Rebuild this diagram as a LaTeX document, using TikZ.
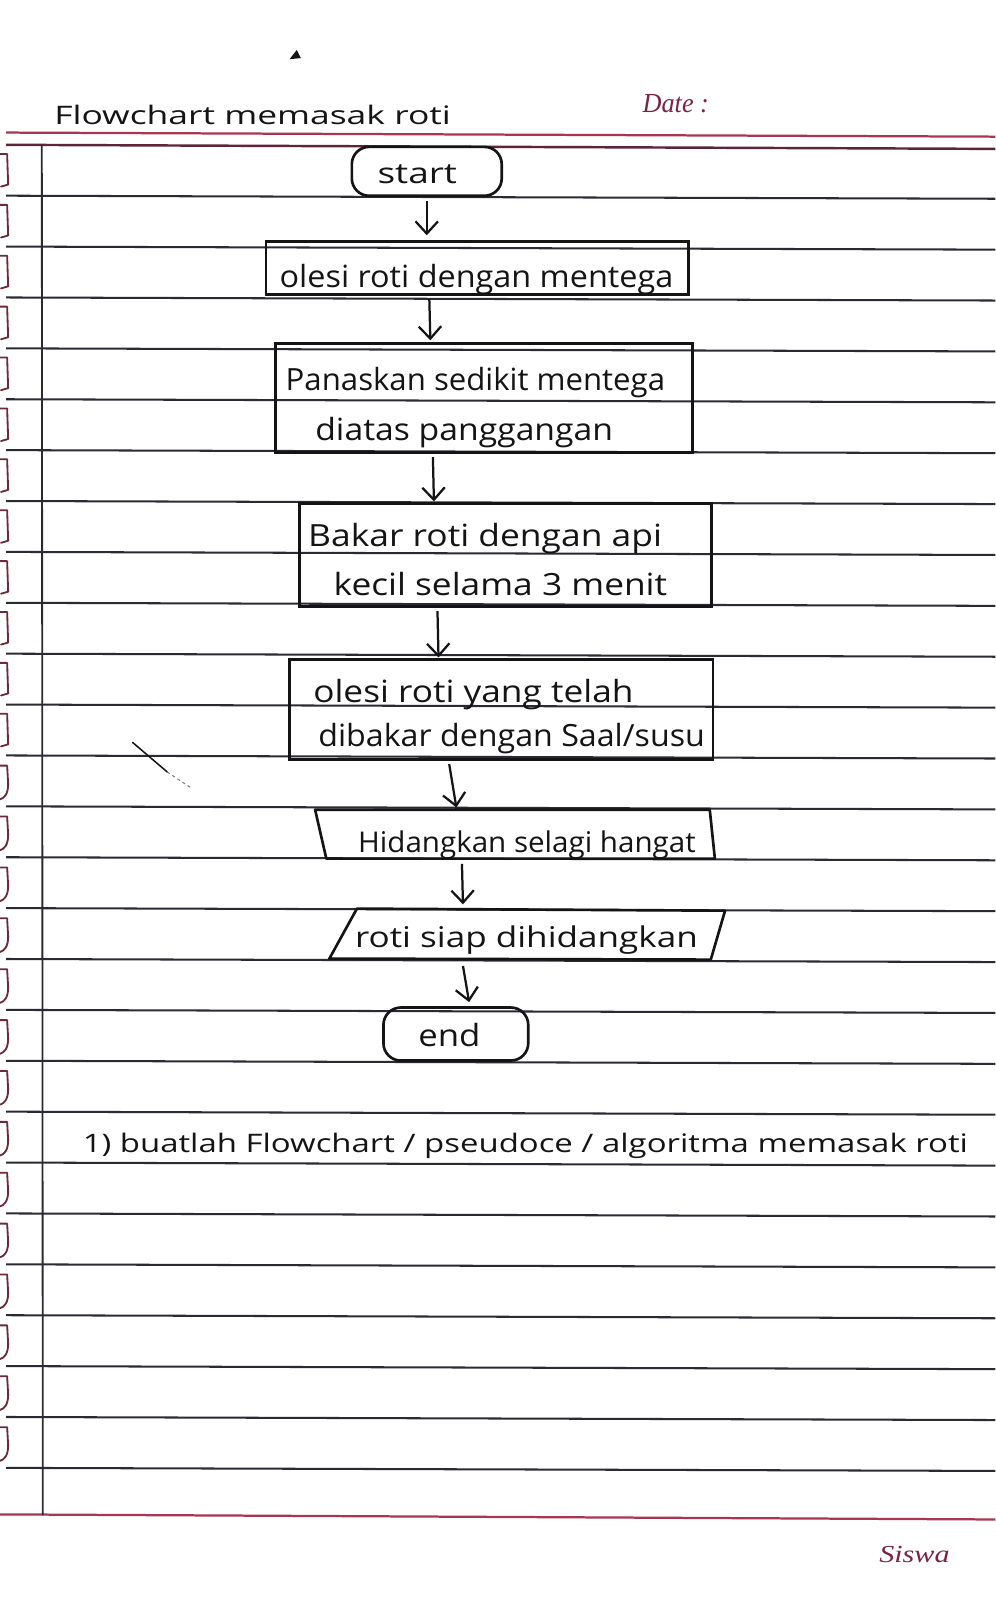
\documentclass[tikz,border=0pt]{standalone}
\usepackage{fontspec}
\usepackage{graphicx}
\newfontfamily\hand{Open Sans}
\newfontfamily\dserif{Liberation Serif}
\usetikzlibrary{arrows.meta,calc}
\definecolor{ink}{HTML}{141414}
\definecolor{rulec}{HTML}{2A2A34}
\definecolor{redline}{HTML}{A83652}
\definecolor{maroonc}{HTML}{5E2536}
\definecolor{printred}{HTML}{7A2342}
\definecolor{markc}{HTML}{6E2A3A}
\newcommand\hw[2]{\resizebox{#1}{\height}{#2}}
\begin{document}
\begin{tikzpicture}[x=1pt,y=-1pt,
  box/.style={draw=ink, line width=2.6pt, inner sep=0pt, rectangle},
  term/.style={box, rounded corners=17pt},
  hidden/.style={inner sep=0pt, rectangle},
  shapeline/.style={draw=ink, line width=2.6pt, line join=round},
  txt/.style={inner sep=0pt, anchor=base west, text=ink},
  tA/.style={txt, font=\hand\fontsize{30}{36}\selectfont},
  tB/.style={txt, font=\hand\fontsize{28}{32}\selectfont},
  tC/.style={txt, font=\hand\fontsize{25}{28}\selectfont},
  arr/.style={draw=ink, line width=2.2pt, -{Straight Barb[length=12pt,width=22pt,line width=2.2pt]}},
  ruled/.style={draw=rulec, line width=2pt},
  bindermark/.style={draw=markc, line width=1.8pt, line cap=round, line join=round}
]
\fill[white] (0,0) rectangle (976,1568);
\useasboundingbox (0,0) rectangle (976,1568);

% ---- notebook paper ----
\draw[draw=redline, line width=2.2pt] (6,130) -- (976,134);
\draw[draw=maroonc, line width=2.4pt] (6,142) -- (976,146);
\foreach \k in {1,...,26} {
  \pgfmathsetmacro\yy{142+49.9*\k}
  \draw[ruled] (6,\yy) -- (976,\yy+3);
}
\draw[draw=redline, line width=2.2pt] (0,1485) -- (976,1490);
\draw[draw=rulec, line width=1.8pt] (41,142) -- (42,1486);
\foreach \k in {0,...,11} {
  \pgfmathsetmacro\yy{142+49.9*\k}
  \draw[bindermark] (0,\yy+9) -- (7,\yy+9) -- (8,\yy+39) -- (1,\yy+41);
}
\foreach \k in {12,...,25} {
  \pgfmathsetmacro\yy{142+49.9*\k}
  \draw[bindermark] (0,\yy+10) -- (7,\yy+10) -- (8,\yy+28) .. controls (8,\yy+38) and (4,\yy+42) .. (0,\yy+43);
}
% stray pen marks
\fill[ink] (284,58) -- (291,49) -- (295,57) -- cycle;
\draw[ink, line width=1.5pt, line cap=round] (130,728) -- (164,757);
\draw[gray, line width=1pt, dashed] (164,757) -- (188,773);

% ---- header texts ----
\node[tC] (title) at (53,122) {\hw{389pt}{Flowchart memasak roti}};
\node[inner sep=0pt, anchor=base west, text=printred, font=\dserif\itshape\fontsize{27}{30}\selectfont] (date) at (630,110) {\hw{65pt}{Date :}};
\node[inner sep=0pt, anchor=base west, text=printred, font=\dserif\itshape\fontsize{24}{28}\selectfont] (siswa) at (862,1532) {\hw{69pt}{Siswa}};

% ---- flowchart shapes ----
\node[term, minimum width=147pt, minimum height=48pt] (s) at (418.5,168) {};
\node[box, minimum width=414pt, minimum height=52pt] (b1) at (468,263) {};
\node[box, minimum width=409pt, minimum height=107pt] (b2) at (474.5,390.5) {};
\node[box, minimum width=404pt, minimum height=101pt] (b3) at (496,544.5) {};
\node[box, minimum width=415pt, minimum height=98pt] (b4) at (491.5,696) {};
\node[hidden, minimum width=392pt, minimum height=48pt] (b5) at (505,818) {};
\draw[shapeline] (309,794) -- (696,794) -- (701,842) -- (320,842) -- cycle;
\node[hidden, minimum width=388pt, minimum height=50pt] (io) at (517,916) {};
\draw[shapeline] (350,891) -- (711,893) -- (697,941) -- (323,940) -- cycle;
\node[term, minimum width=142pt, minimum height=52pt] (e) at (447,1014) {};

% ---- texts in shapes ----
\node[tB] (ts) at (370,180) {\hw{78pt}{start}};
\node[tA] (t1) at (274,282) {\hw{386pt}{olesi roti dengan mentega}};
\node[tA] (t2a) at (280,383) {\hw{372pt}{Panaskan sedikit mentega}};
\node[tA] (t2b) at (309,432) {\hw{292pt}{diatas panggangan}};
\node[tA] (t3a) at (302,536) {\hw{347pt}{Bakar roti dengan api}};
\node[tA] (t3b) at (327,584) {\hw{327pt}{kecil selama 3 menit}};
\node[tA] (t4a) at (307,689) {\hw{314pt}{olesi roti yang telah}};
\node[tA] (t4b) at (312,732) {\hw{379pt}{dibakar dengan Saal/susu}};
\node[tB] (t5) at (351,836) {\hw{331pt}{Hidangkan selagi hangat}};
\node[tB] (tio) at (348,929) {\hw{336pt}{roti siap dihidangkan}};
\node[tA] (te) at (410,1026) {\hw{61pt}{end}};

% ---- connectors ----
\draw[arr] ($(s.south)+(0,4)$) -- ($(s.south |- b1.north)+(0,-5)$);
\draw[arr] ($(b1.south)+(-47,3)$) -- ($(b1.south |- b2.north)+(-46,-2)$);
\draw[arr] ($(b2.south)+(-50,3)$) -- ($(b2.south |- b3.north)+(-49,-1)$);
\draw[arr] ($(b3.south)+(-67,3)$) -- ($(b3.south |- b4.north)+(-66,-1)$);
\draw[arr] ($(b4.south)+(-51,3)$) -- ($(b4.south |- b5.north)+(-44,-2)$);
\draw[arr] ($(b5.south)+(-52,5)$) -- ($(b5.south |- io.north)+(-51,-4)$);
\draw[arr] ($(io.south)+(-63,6)$) -- ($(io.south |- e.north)+(-57,-4)$);

% ---- bottom text ----
\node[tC] (q) at (81,1130) {\hw{868pt}{1) buatlah Flowchart / pseudoce / algoritma memasak roti}};
\end{tikzpicture}
\end{document}
